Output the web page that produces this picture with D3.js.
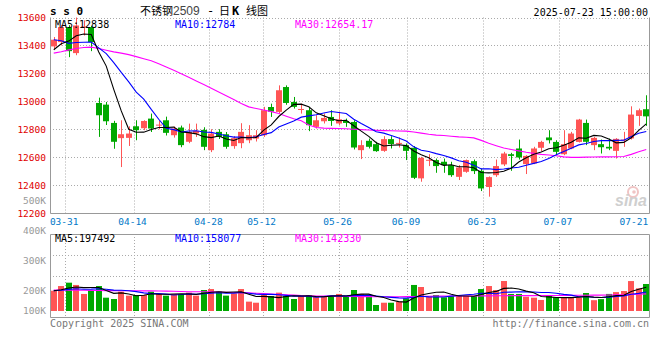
<!DOCTYPE html>
<html>
<head>
<meta charset="utf-8">
<script src="https://cdn.jsdelivr.net/npm/d3@7"></script>
<style>
body { margin: 0; background: #fff; }
text { font-family: "DejaVu Sans Mono", monospace; }
</style>
</head>
<body>
<svg id="chart" width="660" height="360"></svg>
<script>
// trading days shown (MM-DD, 2025)
const dates = ['03-27','03-28','03-31','04-01','04-02','04-03','04-07','04-08','04-09','04-10',
  '04-11','04-14','04-15','04-16','04-17','04-18','04-21','04-22','04-23','04-24',
  '04-25','04-28','04-29','04-30','05-06','05-07','05-08','05-09','05-12','05-13',
  '05-14','05-15','05-16','05-19','05-20','05-21','05-22','05-23','05-26','05-27',
  '05-28','05-29','05-30','06-03','06-04','06-05','06-06','06-09','06-10','06-11',
  '06-12','06-13','06-16','06-17','06-18','06-19','06-20','06-23','06-24','06-25',
  '06-26','06-27','06-30','07-01','07-02','07-03','07-04','07-07','07-08','07-09',
  '07-10','07-11','07-14','07-15','07-16','07-17','07-18','07-21','07-22','07-23'];

const open = [13393,13424,13531,13345,13532,13531,12988,12976,12845,12736,
  12738,12821,12807,12876,12830,12864,12757,12812,12710,12769,
  12795,12650,12781,12764,12679,12700,12721,12733,12757,12959,
  12924,13102,12995,12940,12936,12817,12857,12888,12841,12859,
  12852,12650,12717,12693,12645,12729,12698,12686,12667,12448,
  12577,12579,12567,12543,12459,12495,12571,12502,12386,12471,
  12548,12621,12662,12550,12555,12667,12741,12709,12621,12662,
  12709,12845,12686,12693,12674,12645,12719,12734,12895,12943];
const high = [13460,13545,13545,13600,13579,13540,13026,12995,12860,12864,
  12821,12864,12864,12912,12860,12890,12820,12826,12840,12840,
  12814,12800,12800,12780,12750,12843,12829,12793,12960,12983,
  13114,13114,13031,12983,12960,12900,12912,12936,12924,12876,
  12864,12721,12733,12710,12750,12750,12741,12698,12679,12602,
  12621,12590,12590,12567,12543,12583,12583,12519,12462,12583,
  12638,12631,12726,12614,12674,12717,12793,12721,12793,12781,
  12874,12869,12745,12726,12733,12736,12781,12964,12948,13043];
const low = [13370,13400,13316,13330,13471,13359,12745,12830,12660,12529,
  12680,12721,12793,12780,12800,12755,12740,12671,12700,12745,
  12650,12636,12730,12660,12660,12664,12700,12712,12745,12888,
  12912,12975,12948,12912,12786,12805,12841,12824,12829,12817,
  12655,12586,12662,12638,12638,12662,12669,12579,12443,12424,
  12536,12488,12488,12459,12436,12488,12479,12357,12317,12459,
  12536,12502,12583,12479,12550,12643,12698,12614,12614,12657,
  12705,12686,12650,12626,12650,12590,12674,12726,12824,12824];
const close = [13441,13531,13359,13543,13536,13424,12900,12857,12710,12764,
  12769,12793,12859,12805,12833,12774,12805,12686,12781,12788,
  12674,12769,12745,12674,12736,12781,12757,12757,12936,12926,
  13079,12988,12960,12945,12829,12864,12881,12859,12871,12845,
  12669,12686,12674,12643,12729,12693,12702,12645,12452,12595,
  12581,12536,12543,12471,12526,12579,12500,12376,12457,12536,
  12626,12609,12598,12609,12662,12709,12721,12638,12693,12769,
  12869,12710,12738,12671,12662,12731,12726,12905,12936,12892];
// closes of the 9 sessions before the first one drawn (for MA5 / MA10)
const priorClose = [13600,13550,13480,13520,13415,13316,13264,13353,13471];
// MA30 of price
const ma30Price = [13345,13355,13368,13378,13385,13388,13378,13366,13354,13345,
  13334,13320,13305,13290,13268,13245,13222,13198,13172,13146,
  13120,13093,13066,13040,13012,12985,12960,12948,12937,12926,
  12912,12893,12875,12860,12830,12812,12808,12806,12805,12803,
  12800,12797,12794,12792,12790,12789,12787,12786,12780,12772,
  12764,12758,12755,12750,12745,12742,12738,12720,12700,12682,
  12665,12655,12645,12635,12627,12620,12615,12610,12602,12598,
  12598,12600,12601,12602,12602,12603,12605,12620,12638,12654.17];

const volume = [169000,208000,236000,217000,142000,175000,208000,111000,100000,161000,
  128000,133000,133000,161000,142000,128000,142000,142000,153000,128000,
  175000,183000,161000,128000,147000,183000,78000,69000,133000,125000,
  153000,125000,100000,125000,133000,119000,119000,125000,142000,119000,
  175000,142000,125000,50000,69000,69000,78000,106000,217000,200000,
  125000,133000,114000,125000,128000,125000,125000,183000,208000,175000,
  250000,142000,142000,119000,111000,92000,125000,114000,114000,114000,
  112000,150000,90000,99000,142310,157500,166500,249500,188960,225000];
const priorVolume = [175000,160000,170000,180000,165000,170000,160000,175000,170000];
const ma30Volume = [175000,175000,174000,174000,173000,172000,171000,170000,170000,169000,
  169000,169000,168000,168000,167000,166000,164000,162000,161000,161000,
  161000,160000,158000,156000,154000,153000,151000,148000,145000,142000,
  140000,136000,132000,128000,126000,125000,125000,124000,122000,121000,
  121000,120000,120000,119000,119000,119000,119000,120000,121000,122000,
  123000,124000,124000,125000,125000,125000,125000,126000,126000,127000,
  127000,128000,128000,128000,128000,129000,129000,129000,130000,130000,
  131000,131000,132000,132000,133000,134000,135000,137000,140000,142330];

const priceTicks = [12200, 12400, 12600, 12800, 13000, 13200, 13400, 13600];
const volumeTicks = [100000, 200000, 300000, 400000, 500000];
const dateTicks = ['03-31','04-14','04-28','05-12','05-26','06-09','06-23','07-07','07-21'];

const UP = '#ff5555', DOWN = '#00a800';
const n = dates.length;

function movingAvg(values, prior, len) {
  const all = prior.concat(values);
  return values.map((_, i) => d3.mean(all.slice(i + prior.length - len + 1, i + prior.length + 1)));
}
const ma5 = movingAvg(close, priorClose, 5);
const ma10 = movingAvg(close, priorClose, 10);
const vma5 = movingAvg(volume, priorVolume, 5);
const vma10 = movingAvg(volume, priorVolume, 10);

const svg = d3.select('#chart');

// scales
const x = d3.scaleBand().domain(d3.range(n)).range([50, 650]);
const cx = i => x(i) + x.bandwidth() / 2;
const xGrid = d3.scaleLinear().domain([0, n - 1]).range([50, 650]);
const y = d3.scaleLinear().domain([12200, 13600]).range([213, 17.5]);
const yv = d3.scaleLinear().domain([0, 100000]).range([311, 299]);
const yvLabel = d3.scaleLinear().domain([200000, 500000]).range([290, 200]);
const volPanel = d3.scaleLinear().domain([0, 4]).range([318, 234]);
const isUp = i => close[i] >= open[i];

const crisp = v => Math.round(v) + 0.5;

// grid
const grid = svg.append('g').attr('stroke', '#aaa').attr('stroke-dasharray', '1,2');
priceTicks.slice(1).forEach(t => {
  grid.append('line').attr('x1', 50).attr('x2', 649)
    .attr('y1', crisp(y(t))).attr('y2', crisp(y(t)));
});
[2, 3].forEach(k => {
  grid.append('line').attr('x1', 50).attr('x2', 649)
    .attr('y1', crisp(volPanel(k))).attr('y2', crisp(volPanel(k)));
});
const tickIdx = dateTicks.map(d => dates.indexOf(d));
tickIdx.slice(0, -1).forEach(i => {
  const gx = crisp(xGrid(i));
  grid.append('line').attr('x1', gx).attr('x2', gx).attr('y1', y(13600)).attr('y2', 213);
  grid.append('line').attr('x1', gx).attr('x2', gx).attr('y1', 234).attr('y2', 318);
});

// frames
const frame = svg.append('g').attr('stroke', '#999').attr('fill', 'none');
frame.append('path').attr('d', `M50.5,${y(13600)}V213.5H649.5V${y(13600)}`);
frame.append('path').attr('d', 'M50.5,234.5V317.5H649.5V234.5Z');

// watermark
const wm = svg.append('g');
wm.append('circle').attr('cx', 633).attr('cy', 192).attr('r', 5)
  .attr('fill', 'none').attr('stroke', '#f0c4c4').attr('stroke-width', 2);
wm.append('circle').attr('cx', 634).attr('cy', 192).attr('r', 1.8).attr('fill', '#f0c4c4');
wm.append('text').attr('x', 647).attr('y', 206).attr('text-anchor', 'end')
  .style('font-family', '"Liberation Sans", sans-serif').style('font-style', 'italic')
  .style('font-weight', 'bold').style('font-size', '16px').attr('fill', '#cfcfcf').text('sina');

// candles
const plot = svg.append('g');
const bw = 6;
d3.range(n).forEach(i => {
  const c = isUp(i) ? UP : DOWN;
  const xc = Math.round(cx(i)) + 0.5;
  plot.append('line').attr('x1', xc).attr('x2', xc)
    .attr('y1', y(high[i])).attr('y2', y(low[i])).attr('stroke', c);
  const top = y(Math.max(open[i], close[i]));
  const h = Math.max(1, y(Math.min(open[i], close[i])) - top);
  plot.append('rect').attr('x', xc - 0.5 - bw / 2).attr('width', bw)
    .attr('y', top).attr('height', h).attr('fill', c);
});

// MA lines
const priceLine = d3.line().x((d, i) => cx(i)).y(d => y(d));
[[ma30Price, '#ff00ff'], [ma10, '#0000ff'], [ma5, '#000']].forEach(([data, col]) => {
  svg.append('path').datum(data).attr('d', priceLine)
    .attr('fill', 'none').attr('stroke', col).attr('stroke-width', 1.1);
});

// volume bars
d3.range(n).forEach(i => {
  const xc = Math.round(cx(i));
  svg.append('rect').attr('x', xc - bw / 2).attr('width', bw)
    .attr('y', yv(volume[i])).attr('height', yv(0) - yv(volume[i]))
    .attr('fill', isUp(i) ? UP : DOWN);
});
const volLine = d3.line().x((d, i) => cx(i)).y(d => yv(d));
[[ma30Volume, '#ff00ff'], [vma10, '#0000ff'], [vma5, '#000']].forEach(([data, col]) => {
  svg.append('path').datum(data).attr('d', volLine)
    .attr('fill', 'none').attr('stroke', col).attr('stroke-width', 1.1);
});

// axes labels
priceTicks.forEach(t => {
  svg.append('text').attr('x', 46).attr('y', y(t) + 3.5).attr('text-anchor', 'end')
    .style('font-size', '9.5px').attr('fill', '#e00000').text(t);
});
volumeTicks.forEach(t => {
  svg.append('text').attr('x', 46).attr('y', Math.min(yvLabel(t), 310) + 3.5).attr('text-anchor', 'end')
    .style('font-size', '9.5px').attr('fill', '#999').text(d3.format('d')(t / 1000) + 'K');
});
tickIdx.forEach((i, k) => {
  svg.append('text').attr('x', xGrid(i) - 1).attr('y', 225).attr('text-anchor', 'middle')
    .style('font-size', '9.5px').attr('fill', '#0078c8').text(dateTicks[k]);
});

// legends
const fmt = d3.format('.0f');
const legend = (yy, items) => items.forEach(([lx, col, txt]) => {
  svg.append('text').attr('x', lx).attr('y', yy).style('font-size', '10px').attr('fill', col).text(txt);
});
legend(27.5, [[55, '#000', 'MA5:' + fmt(ma5[n - 1])], [175, '#0000ff', 'MA10:' + fmt(ma10[n - 1])],
  [295, '#ff00ff', 'MA30:' + d3.format('.2f')(ma30Price[n - 1])]]);
legend(242, [[55, '#000', 'MA5:' + fmt(vma5[n - 1])], [175, '#0000ff', 'MA10:' + fmt(vma10[n - 1])],
  [295, '#ff00ff', 'MA30:' + fmt(ma30Volume[n - 1])]]);

// header
svg.append('text').attr('x', 50).attr('y', 15).style('font-size', '11px').style('font-weight', 'bold')
  .attr('fill', '#000').text('s s 0');
const title = svg.append('text').attr('y', 14.5).attr('fill', '#000');
const cjk = '"Noto Sans CJK SC", sans-serif';
title.append('tspan').attr('x', 140).style('font-family', cjk).style('font-size', '11px').text('不锈钢');
title.append('tspan').attr('x', 173).style('font-family', '"Liberation Sans", sans-serif')
  .style('font-size', '12px').attr('fill', '#444').text('2509');
title.append('tspan').attr('x', 207).style('font-size', '12px').text('-');
title.append('tspan').attr('x', 219).style('font-family', cjk).style('font-size', '11px').text('日');
title.append('tspan').attr('x', 232).style('font-size', '12px').style('font-weight', 'bold').text('K');
title.append('tspan').attr('x', 246).style('font-family', cjk).style('font-size', '11px').text('线图');
svg.append('text').attr('x', 648).attr('y', 16).attr('text-anchor', 'end')
  .style('font-size', '10px').attr('fill', '#000').text('2025-07-23 15:00:00');

// footer
svg.append('text').attr('x', 50).attr('y', 327).style('font-size', '10px').attr('fill', '#777')
  .text('Copyright 2025 SINA.COM');
svg.append('text').attr('x', 649).attr('y', 327).attr('text-anchor', 'end')
  .style('font-size', '10px').attr('fill', '#777').text('http://finance.sina.com.cn');
</script>
</body>
</html>
